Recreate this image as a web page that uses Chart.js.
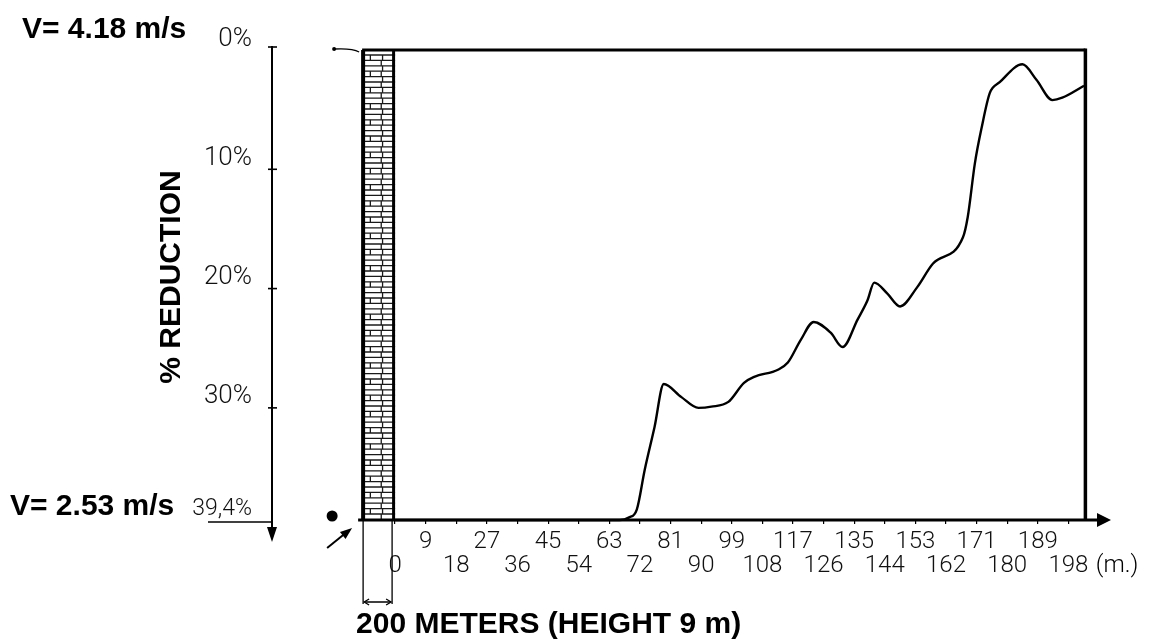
<!DOCTYPE html>
<html>
<head>
<meta charset="utf-8">
<script src="https://cdn.jsdelivr.net/npm/chart.js@4.4.0/dist/chart.umd.min.js"></script>
<style>
  html, body { margin: 0; padding: 0; background: #fff; }
  #wrap { width: 1149px; height: 641px; position: relative; }
</style>
</head>
<body>
<div id="wrap"><canvas id="chart"></canvas></div>
<script>
// distance behind the windbreak (m) and % reduction of wind speed
const distance  = [0, 30, 60, 66, 68.7, 71.1, 73.4, 76.3, 79, 84.2, 89.2, 93, 98, 102.6, 105.6, 112.6, 115.5, 119.3, 123.1, 128.1, 131.6, 136, 138.9, 140.9, 144.7, 148.5, 153.5, 158.2, 167, 168.4, 170.5, 172.5, 174.9, 177.8, 184.5, 188.6, 193.3, 196.2, 202.6];
const reduction = [39.4, 39.4, 39.4, 39.4, 39.2, 38.5, 35.2, 31.6, 28.0, 29.1, 30.0, 29.9, 29.5, 27.9, 27.4, 26.8, 26.2, 24.3, 22.8, 23.7, 24.9, 22.6, 21.0, 19.5, 20.4, 21.5, 19.9, 17.9, 15.7, 14.0, 9.5, 6.5, 3.6, 2.7, 1.2, 2.5, 4.2, 4.0, 3.0];

const xTickValues = [0, 9, 18, 27, 36, 45, 54, 63, 72, 81, 90, 99, 108, 117, 126, 135, 144, 153, 162, 171, 180, 189, 198];
const xTickLabels = ['0', '9', '18', '27', '36', '45', '54', '63', '72', '81', '90', '99', '108', '117', '126', '135', '144', '153', '162', '171', '180', '189', '198'];
const yTickValues = [0, 10, 20, 30, 39.4];
const yTickLabels = ['0%', '10%', '20%', '30%', '39,4%'];

const windbreak = [-9.7, 0];   // hatched strip, in metres on the x scale
const plotEnd = 203;           // right edge of the framed plot
const speedTop = 'V= 4.18 m/s';
const speedBottom = 'V= 2.53 m/s';
const yTitle = '% REDUCTION';
const xUnit = '(m.)';
const footNote = '200 METERS (HEIGHT 9 m)';

const boldFont = 'bold 30px "Liberation Sans", Arial, sans-serif';
const thinFont = 'Roboto, "Liberation Sans", sans-serif';

function arrowHead(ctx, tipX, tipY, dx, dy, len, half) {
  // dx,dy unit direction of the arrow
  const bx = tipX - dx * len, by = tipY - dy * len;
  ctx.beginPath();
  ctx.moveTo(tipX, tipY);
  ctx.lineTo(bx - dy * half, by + dx * half);
  ctx.lineTo(bx + dy * half, by - dx * half);
  ctx.closePath();
  ctx.fill();
}

const decor = {
  id: 'decor',
  afterDatasetsDraw(chart) {
    const { ctx, chartArea: a, scales: { x, y } } = chart;
    const bl = x.getPixelForValue(windbreak[0]);
    const br = x.getPixelForValue(windbreak[1]);
    const top = y.getPixelForValue(yTickValues[0]);
    const bot = y.getPixelForValue(yTickValues[yTickValues.length - 1]);
    const xr = x.getPixelForValue(plotEnd);
    ctx.save();
    ctx.strokeStyle = '#000';
    ctx.fillStyle = '#000';
    ctx.lineCap = 'butt';

    // hatched windbreak strip
    ctx.lineWidth = 1.3;
    ctx.strokeStyle = '#1a1a1a';
    let row = 0;
    for (let yy = top + 5; yy < bot - 2; yy += 5.4) {
      ctx.beginPath();
      ctx.moveTo(bl, yy); ctx.lineTo(br, yy);
      ctx.stroke();
      const mx = bl + (br - bl) * (row % 2 ? 0.58 : 0.62);
      ctx.beginPath();
      ctx.moveTo(mx, yy); ctx.lineTo(mx, yy + 5.4);
      ctx.stroke();
      if (row % 3 === 0) {
        const sx = bl + (br - bl) * 0.25;
        ctx.beginPath();
        ctx.moveTo(sx, yy); ctx.lineTo(sx, yy + 5.4);
        ctx.stroke();
      }
      row++;
    }
    ctx.strokeStyle = '#000';
    ctx.lineWidth = 4;
    ctx.beginPath();
    ctx.moveTo(bl + 1, top); ctx.lineTo(bl + 1, bot);
    ctx.stroke();
    ctx.lineWidth = 3;
    ctx.beginPath();
    ctx.moveTo(br - 1.5, top); ctx.lineTo(br - 1.5, bot);
    ctx.stroke();

    // frame: top and right border
    ctx.lineWidth = 3;
    ctx.beginPath();
    ctx.moveTo(bl, top); ctx.lineTo(xr, top);
    ctx.stroke();
    ctx.lineWidth = 3.5;
    ctx.beginPath();
    ctx.moveTo(xr, top - 1.5); ctx.lineTo(xr, bot);
    ctx.stroke();

    // x axis with arrow
    const tipX = a.right - 5;
    ctx.lineWidth = 3;
    ctx.beginPath();
    ctx.moveTo(bl - 4, bot); ctx.lineTo(tipX - 10, bot);
    ctx.stroke();
    arrowHead(ctx, tipX, bot, 1, 0, 14, 7);

    // y axis with ticks and downward arrow
    const ax = a.left;
    ctx.lineWidth = 2;
    ctx.beginPath();
    ctx.moveTo(ax, top - 4); ctx.lineTo(ax, bot + 8);
    ctx.stroke();
    arrowHead(ctx, ax, bot + 22, 0, 1, 15, 5);
    ctx.lineWidth = 1.6;
    yTickValues.slice(0, 4).forEach(v => {
      const py = y.getPixelForValue(v) - (v === 0 ? 3 : 0);
      ctx.beginPath();
      ctx.moveTo(ax - 4, py); ctx.lineTo(ax + 5, py);
      ctx.stroke();
    });
    // underline of the 39,4% label
    ctx.lineWidth = 1.5;
    ctx.beginPath();
    ctx.moveTo(ax - 64, bot + 2); ctx.lineTo(ax, bot + 2);
    ctx.stroke();

    // small marks left of the strip
    ctx.lineWidth = 1.3;
    ctx.beginPath();
    ctx.arc(bl - 28, top - 1, 2, 0, Math.PI * 2);
    ctx.fill();
    ctx.beginPath();
    ctx.moveTo(bl - 28, top - 1);
    ctx.quadraticCurveTo(bl - 10, top - 2, bl - 3, top + 2);
    ctx.stroke();
    ctx.beginPath();
    ctx.arc(bl - 30, bot - 4, 5.5, 0, Math.PI * 2);
    ctx.fill();
    ctx.lineWidth = 2;
    ctx.beginPath();
    ctx.moveTo(bl - 35, bot + 28); ctx.lineTo(bl - 14, bot + 11);
    ctx.stroke();
    const d = Math.hypot(25, 20);
    arrowHead(ctx, bl - 10, bot + 8, 25 / d, -20 / d, 12, 4.5);

    // strip width marker under the axis
    ctx.lineWidth = 1.3;
    const lx = bl + 1, rx = br - 3, ly = bot + 82;
    ctx.beginPath();
    ctx.moveTo(lx, bot); ctx.lineTo(lx, ly + 2);
    ctx.moveTo(rx, bot); ctx.lineTo(rx, ly + 2);
    ctx.moveTo(lx + 2, ly); ctx.lineTo(rx - 2, ly);
    ctx.stroke();
    ctx.beginPath();
    ctx.moveTo(lx + 6, ly - 3); ctx.lineTo(lx + 1, ly); ctx.lineTo(lx + 6, ly + 3);
    ctx.moveTo(rx - 6, ly - 3); ctx.lineTo(rx - 1, ly); ctx.lineTo(rx - 6, ly + 3);
    ctx.stroke();

    // texts
    ctx.font = boldFont;
    ctx.textAlign = 'left';
    ctx.textBaseline = 'alphabetic';
    ctx.fillText(speedTop, 22, 38);
    ctx.fillText(speedBottom, 10, 515);
    ctx.fillText(footNote, bl - 6, 633);
    ctx.save();
    ctx.translate(180, (top + bot) / 2 - 8);
    ctx.rotate(-Math.PI / 2);
    ctx.textAlign = 'center';
    ctx.fillText(yTitle, 0, 0);
    ctx.restore();

    ctx.font = '300 24px ' + thinFont;
    ctx.textAlign = 'center';
    ctx.textBaseline = 'middle';
    ctx.fillText(xUnit, x.getPixelForValue(212.3), 566);
    ctx.restore();
  }
};

new Chart(document.getElementById('chart'), {
  type: 'line',
  data: {
    datasets: [{
      label: 'reduction',
      data: distance.map((d, i) => ({ x: d, y: reduction[i] })),
      borderColor: '#000',
      borderWidth: 2.4,
      pointRadius: 0,
      cubicInterpolationMode: 'monotone',
      fill: false,
      clip: false
    }]
  },
  options: {
    responsive: true,
    maintainAspectRatio: false,
    animation: false,
    layout: { padding: { top: 50, right: 33, bottom: 0, left: 0 } },
    plugins: { legend: { display: false }, tooltip: { enabled: false } },
    scales: {
      x: {
        type: 'linear',
        min: -36.2,
        max: 212,
        border: { display: false },
        grid: { drawOnChartArea: false, tickLength: 4, color: '#000', lineWidth: 1.2 },
        afterBuildTicks(scale) { scale.ticks = xTickValues.map(v => ({ value: v })); },
        afterFit(scale) { scale.height = 121; },
        ticks: {
          autoSkip: false,
          maxRotation: 0,
          minRotation: 0,
          padding: 6,
          color: '#111',
          font: { family: thinFont, size: 24, weight: '300', lineHeight: 1.0 },
          callback: (v, i) => (i % 2 === 0 ? ['', xTickLabels[i]] : [xTickLabels[i]])
        }
      },
      y: {
        type: 'linear',
        reverse: true,
        min: 0,
        max: 39.4,
        border: { display: false },
        grid: { display: false },
        afterBuildTicks(scale) { scale.ticks = yTickValues.map(v => ({ value: v })); },
        afterFit(scale) { scale.width = 272; },
        ticks: {
          padding: 12,
          labelOffset: -11,
          color: '#111',
          font: c => ({ family: thinFont, size: c.index === yTickValues.length - 1 ? 23 : 26, weight: '300' }),
          callback: (v, i) => yTickLabels[i]
        }
      }
    }
  },
  plugins: [decor]
});
</script>
</body>
</html>
